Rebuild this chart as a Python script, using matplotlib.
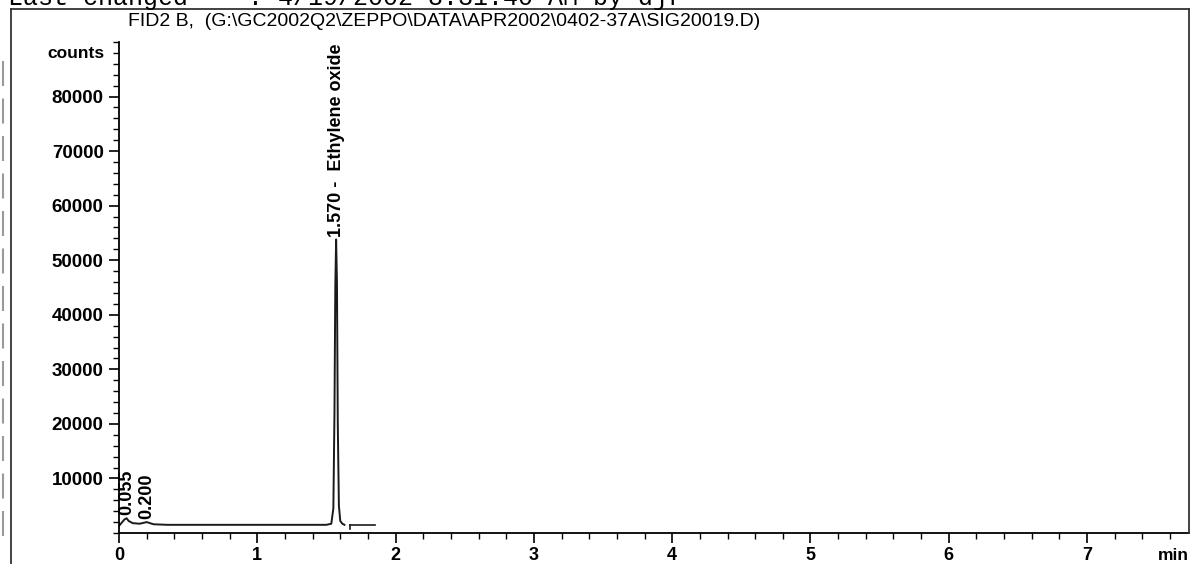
import matplotlib.pyplot as plt
from matplotlib.ticker import MultipleLocator
from matplotlib.lines import Line2D

# signal FID2 B (time in min, counts)
trace_t = [0.0, 0.02, 0.04, 0.055, 0.07, 0.10, 0.15, 0.20, 0.25, 0.35, 0.60,
           1.00, 1.40, 1.50, 1.535, 1.55, 1.558, 1.564, 1.570, 1.576, 1.582,
           1.59, 1.60, 1.615, 1.63]
trace_c = [1300, 1900, 2500, 2700, 2200, 1800, 1700, 2000, 1600, 1500, 1500,
           1500, 1500, 1500, 1700, 4500, 22000, 45000, 53800, 46000, 20000,
           5000, 2200, 1700, 1500]
tail_t = [1.67, 1.85]
tail_c = [1500, 1500]

peak_times = [0.055, 0.200, 1.570]
peak_heights = [2700, 2000, 53800]
peak_labels = ['0.055', '0.200', '1.570 -  Ethylene oxide']

title = r'FID2 B,  (G:\GC2002Q2\ZEPPO\DATA\APR2002\0402-37A\SIG20019.D)'
header = 'Last changed    : 4/19/2002 8:31:40 AM by djr'

W, H = 1191, 564
fig = plt.figure(figsize=(W / 100, H / 100), dpi=100)
plt.rcParams['font.family'] = 'Liberation Sans'

ax = fig.add_axes([119 / W, 1 - 533 / H, (1189 - 119) / W, (533 - 42) / H])
ax.plot(trace_t, trace_c, color='#1a1a1a', lw=1.4)
ax.plot(tail_t, tail_c, color='#1a1a1a', lw=1.2)
ax.plot([1.67, 1.67], [700, 1500], color='#1a1a1a', lw=1.2)

for t, h, lab in zip(peak_times, peak_heights, peak_labels):
    ax.annotate(lab, (t, h), xytext=(0, 2), textcoords='offset points',
                rotation=90, ha='center', va='bottom', fontsize=13,
                fontweight='bold')

ax.set_xlim(0, 7.737)
ax.set_ylim(0, 90000)
ax.xaxis.set_major_locator(MultipleLocator(1))
ax.xaxis.set_minor_locator(MultipleLocator(0.2))
ax.set_yticks(range(10000, 90000, 10000))
ax.yaxis.set_minor_locator(MultipleLocator(2000))
ax.tick_params(which='major', length=7, width=1.2, labelsize=13.5, pad=4)
ax.tick_params(axis='x', which='major', labelsize=13, pad=3)
ax.tick_params(which='minor', length=4, width=1.0)
for lab in ax.get_xticklabels() + ax.get_yticklabels():
    lab.set_fontweight('bold')
for s in ['top', 'right']:
    ax.spines[s].set_visible(False)
for s in ['left', 'bottom']:
    ax.spines[s].set_linewidth(1.3)

fig.text(105 / W, 1 - 53 / H, 'counts', ha='right', va='center',
         fontsize=12.5, fontweight='bold')
fig.text(1189 / W, 1 - 556 / H, 'min', ha='right', va='center',
         fontsize=12.5, fontweight='bold')
fig.text(128 / W, 1 - 21 / H, title, ha='left', va='center', fontsize=14)
fig.text(8 / W, 1 - 5 / H, header, ha='left', va='baseline', fontsize=18,
         family='Liberation Mono')

# outer frame of the printout
box = dict(color='#333333', lw=1.3, transform=fig.transFigure)
fig.add_artist(Line2D([11 / W, 11 / W], [0, 1 - 9 / H], **box))
fig.add_artist(Line2D([11 / W, 1189 / W], [1 - 9 / H, 1 - 9 / H], **box))
fig.add_artist(Line2D([1189 / W, 1189 / W], [1 - 533 / H, 1 - 9 / H], **box))
fig.add_artist(Line2D([3 / W, 3 / W], [0.05, 0.9], color='#999999', lw=1.5,
                      ls=(0, (12, 6)), transform=fig.transFigure))

fig.savefig('out.png', dpi=100)
